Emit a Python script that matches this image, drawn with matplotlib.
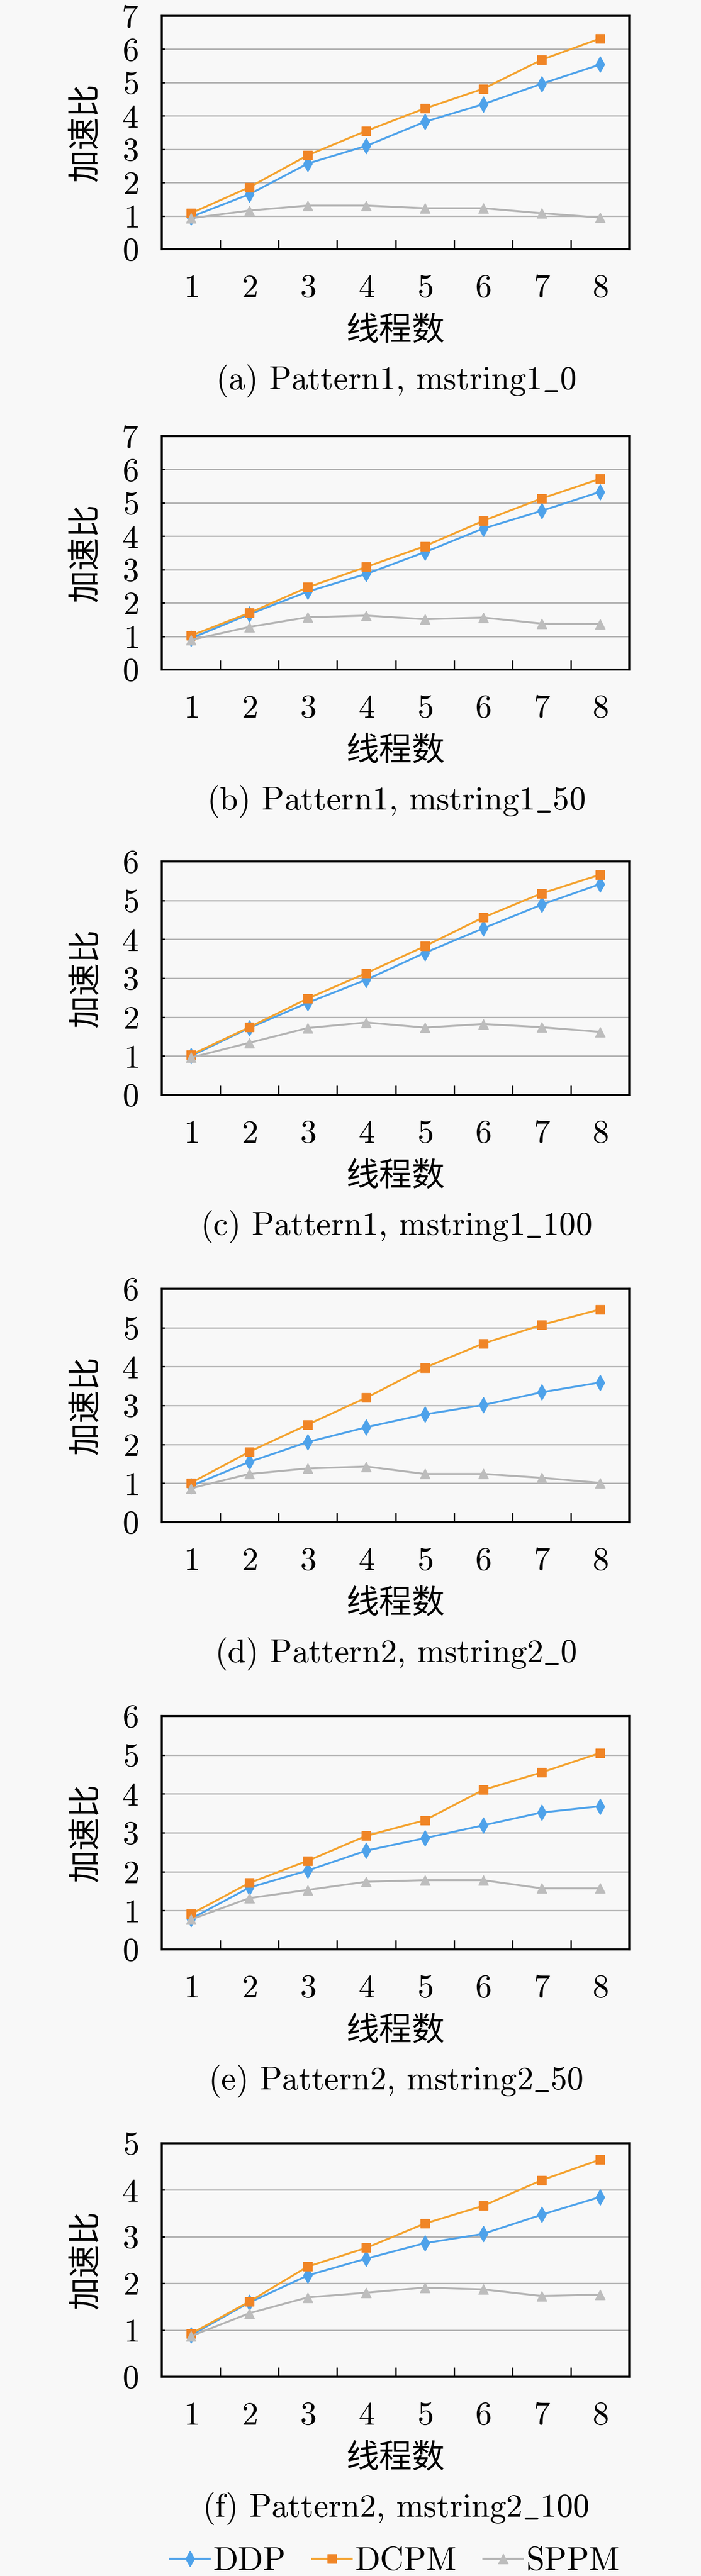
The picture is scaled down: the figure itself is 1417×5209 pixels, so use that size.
import matplotlib
matplotlib.use("Agg")
import matplotlib.pyplot as plt
from matplotlib.ticker import FixedLocator, NullFormatter

plt.rcParams['font.family'] = ['cmr10', 'Noto Sans CJK SC', 'DejaVu Serif']
plt.rcParams['mathtext.fontset'] = 'cm'
plt.rcParams['axes.unicode_minus'] = False
plt.rcParams['axes.formatter.use_mathtext'] = True

# ---------------- data ----------------
threads = [1, 2, 3, 4, 5, 6, 7, 8]
series_names = ["DDP", "DCPM", "SPPM"]
captions = [
    r"(a) Pattern1, mstring1$\_$0",
    r"(b) Pattern1, mstring1$\_$50",
    r"(c) Pattern1, mstring1$\_$100",
    r"(d) Pattern2, mstring2$\_$0",
    r"(e) Pattern2, mstring2$\_$50",
    r"(f) Pattern2, mstring2$\_$100",
]
y_max = [7, 7, 6, 6, 6, 5]
x_label = "线程数"
y_label = "加速比"

ddp_a = [0.97, 1.65, 2.57, 3.10, 3.82, 4.35, 4.96, 5.54]
dcpm_a = [1.08, 1.86, 2.82, 3.55, 4.22, 4.81, 5.68, 6.32]
sppm_a = [0.93, 1.16, 1.31, 1.31, 1.23, 1.23, 1.08, 0.95]

ddp_b = [0.94, 1.66, 2.34, 2.87, 3.52, 4.23, 4.76, 5.33]
dcpm_b = [1.02, 1.70, 2.47, 3.08, 3.70, 4.46, 5.13, 5.72]
sppm_b = [0.89, 1.28, 1.57, 1.62, 1.51, 1.56, 1.38, 1.37]

ddp_c = [1.00, 1.72, 2.37, 2.96, 3.65, 4.28, 4.89, 5.42]
dcpm_c = [1.03, 1.74, 2.48, 3.13, 3.82, 4.56, 5.18, 5.66]
sppm_c = [0.96, 1.34, 1.72, 1.86, 1.73, 1.82, 1.74, 1.62]

ddp_d = [0.93, 1.55, 2.06, 2.44, 2.77, 3.01, 3.34, 3.59]
dcpm_d = [1.01, 1.81, 2.51, 3.20, 3.97, 4.59, 5.07, 5.47]
sppm_d = [0.87, 1.24, 1.38, 1.43, 1.24, 1.24, 1.14, 1.01]

ddp_e = [0.79, 1.59, 2.03, 2.54, 2.86, 3.19, 3.52, 3.68]
dcpm_e = [0.91, 1.71, 2.28, 2.92, 3.32, 4.10, 4.55, 5.05]
sppm_e = [0.77, 1.32, 1.53, 1.74, 1.78, 1.78, 1.57, 1.57]

ddp_f = [0.89, 1.59, 2.17, 2.53, 2.86, 3.06, 3.47, 3.85]
dcpm_f = [0.92, 1.61, 2.36, 2.76, 3.28, 3.66, 4.21, 4.65]
sppm_f = [0.87, 1.36, 1.70, 1.80, 1.91, 1.87, 1.73, 1.76]

panels = [
    (ddp_a, dcpm_a, sppm_a),
    (ddp_b, dcpm_b, sppm_b),
    (ddp_c, dcpm_c, sppm_c),
    (ddp_d, dcpm_d, sppm_d),
    (ddp_e, dcpm_e, sppm_e),
    (ddp_f, dcpm_f, sppm_f),
]

# ---------------- style ----------------
W, H = 1417, 5209
DPI = 100
BG = "#F8F8F8"
styles = [
    dict(color="#4EA2EA", marker="d", markersize=16, markerfacecolor="#4EA2EA", markeredgecolor="#4EA2EA"),
    dict(color="#F4A22E", marker="s", markersize=13, markerfacecolor="#F08526", markeredgecolor="#F08526"),
    dict(color="#B3B3B3", marker="^", markersize=14, markerfacecolor="#BDBDBD", markeredgecolor="#BDBDBD"),
]
FS = 48

fig = plt.figure(figsize=(W / DPI, H / DPI), dpi=DPI, facecolor=BG)

ax_left, ax_right = 327, 1272
ax_h = 472
tops = [32, 882, 1742, 2606, 3470, 4334]


def fx(px):
    return px / W


def fy(py):
    return 1 - py / H


handles = None
for i, (vals, top) in enumerate(zip(panels, tops)):
    ax = fig.add_axes([fx(ax_left), fy(top + ax_h), fx(ax_right - ax_left), ax_h / H])
    ax.set_facecolor(BG)
    hs = []
    for name, v, st in zip(series_names, vals, styles):
        (h,) = ax.plot(threads, v, linewidth=2.8, label=name, zorder=3, **st)
        hs.append(h)
    handles = hs
    ax.set_xlim(0.5, 8.5)
    ax.set_ylim(0, y_max[i])
    ax.set_yticks(range(0, y_max[i] + 1))
    ax.set_xticks(threads)
    ax.xaxis.set_minor_locator(FixedLocator([k + 0.5 for k in threads[:-1]]))
    ax.xaxis.set_minor_formatter(NullFormatter())
    ax.tick_params(axis='x', which='major', length=0, pad=36, labelsize=FS)
    ax.tick_params(axis='x', which='minor', direction='in', length=14, width=2.0, color='black')
    ax.tick_params(axis='y', which='major', direction='in', length=4, width=2.0, pad=34, labelsize=FS)
    ax.tick_params(top=False, right=False)
    for yv in range(1, y_max[i]):
        ax.axhline(yv, color="#ABABAB", linewidth=1.8, zorder=1)
    for sp in ax.spines.values():
        sp.set_color("black")
        sp.set_linewidth(3.0)
    ax.set_ylabel(y_label, fontsize=FS, labelpad=28)
    bottom = top + ax_h
    fig.text(fx(800), fy(bottom + 166), x_label, ha='center', va='center', fontsize=FS)
    fig.text(fx(800), fy(bottom + 266), captions[i], ha='center', va='center', fontsize=FS)

fig.legend(handles, series_names, loc='center', bbox_to_anchor=(fx(798), fy(5180)),
           ncol=3, frameon=False, fontsize=FS, handlelength=1.2, handletextpad=0.1,
           columnspacing=0.8, borderpad=0)

fig.savefig("out.png", dpi=DPI, facecolor=BG)
